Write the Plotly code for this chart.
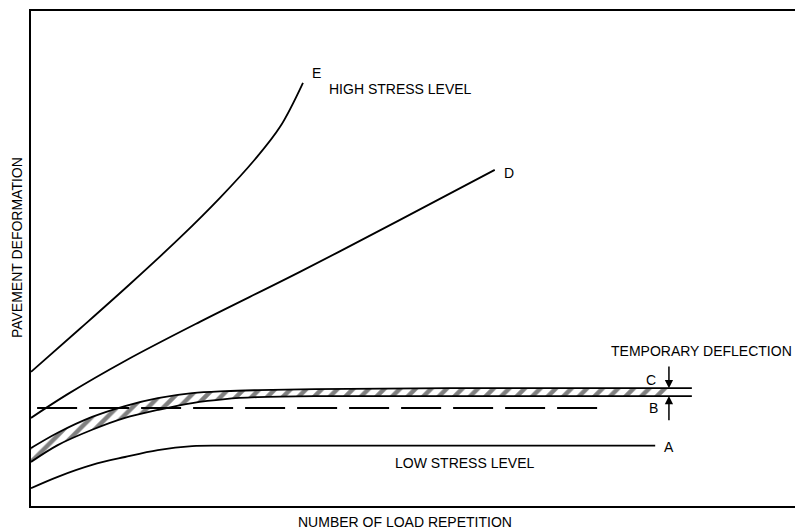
import numpy as np
import plotly.graph_objects as go

# Curve E - high stress level, accelerating deformation
e_x = [0, 6.4, 13.0, 19.5, 24.7, 29.3, 32.6, 35.6]
e_y = [27.1, 35.8, 44.9, 54.2, 62.2, 70.0, 76.6, 85.5]

# Curve D - steady growth
d_x = [0, 4.8, 12.3, 22.1, 35.2, 48.3, 60.7]
d_y = [17.8, 22.6, 29.3, 37.2, 47.3, 57.8, 67.9]

# Curve C - band of temporary deflection (upper / lower boundaries)
c_x = [0, 3.5, 8.0, 12.3, 16.6, 21.1, 25.4, 29.7, 37.2, 54.8, 86.5]
c_upper = [11.7, 14.8, 18.0, 20.2, 21.8, 22.8, 23.2, 23.4, 23.6, 23.8, 23.8]
c_lower = [8.9, 12.3, 15.4, 17.8, 19.4, 20.8, 21.6, 22.0, 22.2, 22.2, 22.2]
c_hatch_end = 83.5

# Curve B - dashed level
b_x = [0.8, 74.6]
b_y = [19.8, 19.8]

# Curve A - low stress level, levels off
a_x = [0, 3.5, 8.0, 12.3, 16.6, 21.1, 25.4, 40.0, 81.7]
a_y = [3.6, 5.9, 8.3, 9.9, 11.3, 12.1, 12.2, 12.2, 12.2]

INK = "#000000"
FONT = "Liberation Sans, Arial, sans-serif"

fig = go.Figure()

# hatched fill between the C boundaries
hx = [x for x in c_x if x < c_hatch_end] + [c_hatch_end]
hu = list(np.interp(hx, c_x, c_upper))
hl = list(np.interp(hx, c_x, c_lower))
fig.add_trace(go.Scatter(x=hx, y=hl, mode="lines", line=dict(width=0, shape="spline"),
                         hoverinfo="skip", showlegend=False))
fig.add_trace(go.Scatter(x=hx, y=hu, mode="lines", line=dict(width=0, shape="spline"),
                         fill="tonexty", fillcolor="rgba(0,0,0,0)",
                         fillpattern=dict(shape="/", size=11, solidity=0.4,
                                          fgcolor=INK, bgcolor="white"),
                         hoverinfo="skip", showlegend=False))

line = dict(color=INK, width=1.8, shape="spline", smoothing=1.0)
for xs, ys in [(e_x, e_y), (d_x, d_y), (c_x, c_upper), (c_x, c_lower), (a_x, a_y)]:
    fig.add_trace(go.Scatter(x=xs, y=ys, mode="lines", line=line,
                             hoverinfo="skip", showlegend=False))

fig.add_trace(go.Scatter(x=b_x, y=b_y, mode="lines",
                         line=dict(color=INK, width=1.8, dash="40px,12px"),
                         hoverinfo="skip", showlegend=False))

# thickness arrows marking the temporary deflection
arrow_x = c_hatch_end
fig.add_annotation(x=arrow_x, y=c_upper[-1], ax=arrow_x, ay=28.5, axref="x", ayref="y",
                   xref="x", yref="y", text="", showarrow=True, arrowhead=2,
                   arrowsize=1.1, arrowwidth=1.5, arrowcolor=INK)
fig.add_annotation(x=arrow_x, y=c_lower[-1], ax=arrow_x, ay=17.0, axref="x", ayref="y",
                   xref="x", yref="y", text="", showarrow=True, arrowhead=2,
                   arrowsize=1.1, arrowwidth=1.5, arrowcolor=INK)

labels = [
    ("E", 36.5, 87.5, "left"),
    ("HIGH STRESS LEVEL", 48.4, 84.2, "center"),
    ("D", 61.6, 67.3, "left"),
    ("TEMPORARY DEFLECTION", 75.6, 31.3, "left"),
    ("C", 81.2, 25.5, "center"),
    ("B", 81.5, 19.8, "center"),
    ("A", 82.6, 11.9, "left"),
    ("LOW STRESS LEVEL", 56.7, 8.7, "center"),
]
for text, x, y, anchor in labels:
    fig.add_annotation(x=x, y=y, xref="x", yref="y", text=text, showarrow=False,
                       xanchor=anchor, yanchor="middle",
                       font=dict(family=FONT, size=14, color=INK))

fig.add_annotation(x=0.4895, y=-0.032, xref="paper", yref="paper",
                   text="NUMBER OF LOAD REPETITION", showarrow=False,
                   xanchor="center", yanchor="middle",
                   font=dict(family=FONT, size=14, color=INK))
fig.add_annotation(x=-0.0183, y=0.521, xref="paper", yref="paper",
                   text="PAVEMENT DEFORMATION", showarrow=False, textangle=-90,
                   xanchor="center", yanchor="middle",
                   font=dict(family=FONT, size=14, color=INK))

axis_common = dict(showgrid=False, zeroline=False, showticklabels=False, ticks="",
                   showline=True, linecolor=INK, linewidth=2, fixedrange=True)
fig.update_xaxes(range=[0, 100], mirror=True, **axis_common)
fig.update_yaxes(range=[0, 100], mirror=False, **axis_common)

fig.update_layout(width=795, height=529, margin=dict(l=31, r=0, t=11, b=23),
                  paper_bgcolor="white", plot_bgcolor="white", showlegend=False)

fig.write_html("out.html")
